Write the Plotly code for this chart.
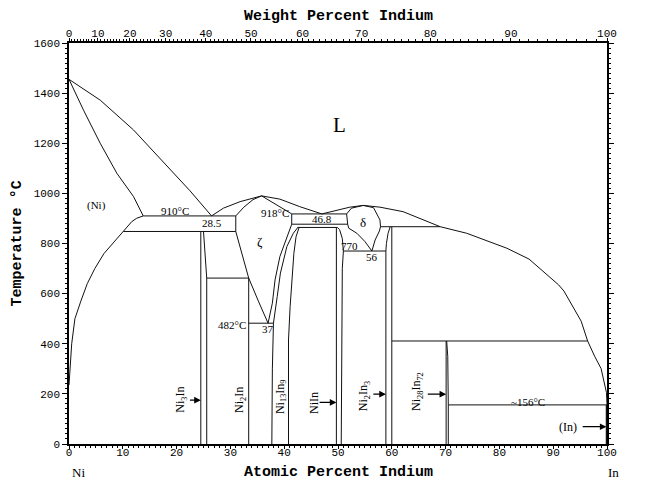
import numpy as np
import plotly.graph_objects as go

# ---------------- data (atomic % In, temperature °C) ----------------
M_NI = 58.6934
M_IN = 114.818

liq_ni_x = [0, 5.8, 12.0, 18.2, 22.5, 26.5]
liq_ni_t = [1455, 1372, 1253, 1107, 1010, 910]

sol_ni_x = [0, 2.7, 5.8, 8.9, 12.0, 13.8]
sol_ni_t = [1455, 1332, 1200, 1080, 987, 910]

solv_ni_x = [13.8, 12.6, 11.7, 10.1, 8.2, 6.5, 4.8, 3.4, 2.2, 1.1, 0.5, 0.2, 0.0]
solv_ni_t = [910, 901, 888, 848, 805, 760, 700, 640, 570, 500, 400, 300, 235]

liq_z1_x = [26.5, 28.7, 31.8, 35.8]
liq_z1_t = [910, 941, 967, 990]

liq_z2_x = [35.8, 39.2, 42.9, 47.0]
liq_z2_t = [990, 977, 947, 918]

liq_in_x = [47.0, 49.8, 52.2, 54.7, 57.8, 62.1, 65.2, 69.0, 73.9, 78.2, 81.4, 85.5, 88.2,
            91.0, 92.0, 93.7, 95.2, 96.4, 97.7, 98.9, 99.6, 99.9, 100.0]
liq_in_t = [918, 934, 945, 952, 945, 927, 900, 867, 841, 807, 781, 738, 686,
            635, 610, 548, 490, 411, 350, 301, 240, 205, 157]

zeta_sol_l_x = [31.0, 32.5, 34.2, 35.8]
zeta_sol_l_t = [910, 945, 975, 990]
zeta_sol_r_x = [35.8, 38.5, 41.4]
zeta_sol_r_t = [990, 955, 918]
zeta_left_x = [31.0, 32.2, 33.4, 35.2, 37.0]
zeta_left_t = [848, 755, 662, 570, 482]
zeta_right_x = [41.4, 40.5, 39.2, 38.3, 37.8, 37.0]
zeta_right_t = [877, 827, 748, 655, 562, 482]

ni3in_l_x = [24.5, 24.5]
ni3in_l_t = [848, 0]
ni3in_r_x = [25.0, 25.3, 25.6, 25.6]
ni3in_r_t = [848, 748, 662, 0]
ni2in_x = [33.4, 33.4]
ni2in_t = [662, 0]
ni13_l_x = [42.6, 41.7, 40.5, 39.3, 38.7, 38.0, 37.8, 37.7]
ni13_l_t = [866, 841, 788, 682, 588, 482, 300, 0]
ni13_r_x = [42.8, 42.2, 41.8, 41.4, 41.1, 40.8, 40.8]
ni13_r_t = [866, 827, 761, 655, 548, 415, 0]
niin_l_x = [49.7, 49.7]
niin_l_t = [864, 0]
niin_r_x = [49.9, 50.3, 50.8, 51.0, 50.8, 50.6]
niin_r_t = [864, 855, 820, 770, 700, 0]
delta_up_x = [51.6, 52.5, 54.7, 56.6, 57.8, 57.9, 57.7, 56.9, 56.3]
delta_up_t = [918, 941, 952, 943, 894, 867, 850, 814, 770]
delta_lo_x = [51.8, 52.0, 53.5, 55.0, 56.3]
delta_lo_t = [877, 861, 841, 808, 770]
ni2in3_l_x = [59.7, 59.3, 59.0, 58.9, 58.9]
ni2in3_l_t = [867, 840, 800, 770, 0]
ni2in3_r_x = [60.0, 60.0]
ni2in3_r_t = [867, 0]
ni28_l_x = [70.1, 70.1]
ni28_l_t = [411, 0]
ni28_r_x = [70.2, 70.4, 70.5, 70.5]
ni28_r_t = [411, 350, 156, 0]

# invariant (horizontal) lines: [x_start, x_end], temperature
iso_910_x, iso_910_t = [13.8, 31.0], 910
iso_848_x, iso_848_t = [10.1, 31.0], 848
iso_662_x, iso_662_t = [25.6, 33.4], 662
iso_482_x, iso_482_t = [33.4, 38.0], 482
iso_918_x, iso_918_t = [41.4, 51.6], 918
iso_877_x, iso_877_t = [41.4, 51.8], 877
iso_864_x, iso_864_t = [42.6, 49.9], 864
iso_770_x, iso_770_t = [51.0, 58.9], 770
iso_867_x, iso_867_t = [57.9, 69.0], 867
iso_411_x, iso_411_t = [60.0, 96.4], 411
iso_156_x, iso_156_t = [70.5, 100.0], 156
edge_31_x, edge_31_t = [31.0, 31.0], [848, 910]
edge_414_x, edge_414_t = [41.4, 41.4], [877, 918]
edge_516_x, edge_516_t = [51.6, 51.8], [918, 877]
in_bar_x, in_bar_t = [100, 100], [0, 157]

# text labels
lab_text = ["(Ni)", "910°C", "28.5", "ζ", "46.8", "δ", "770", "56", "37", "~156°C"]
lab_x = [5.1, 19.7, 26.5, 35.5, 47.0, 54.7, 52.2, 56.3, 36.9, 85.3]
lab_t = [950, 931, 881, 808, 896, 885, 792, 745, 458, 169]

phase_text = ["Ni<sub>3</sub>In", "Ni<sub>2</sub>In", "Ni<sub>13</sub>In<sub>9</sub>", "NiIn",
              "Ni<sub>2</sub>In<sub>3</sub>", "Ni<sub>28</sub>In<sub>72</sub>"]
phase_x = [20.8, 31.8, 39.3, 45.4, 54.9, 64.8]
phase_t = [176, 176, 189, 165, 192, 210]

arrow_x0 = [22.2, 46.3, 56.3, 66.4, 95.2]
arrow_x1 = [24.5, 49.7, 58.9, 70.1, 99.9]
arrow_t = [175, 166, 199, 199, 69]

x_ticks = list(range(0, 101, 10))
t_ticks = list(range(0, 1601, 200))
wt_ticks = list(range(0, 101, 10))
wt_minor = list(range(0, 101, 1))


def wt_to_at(w):
    w = np.asarray(w, dtype=float)
    a = w / M_IN
    b = (100.0 - w) / M_NI
    return 100.0 * a / (a + b)


fig = go.Figure()
LC = "#111"


def add(xs, ts, w=1.0):
    if np.isscalar(ts):
        ts = [ts] * len(xs)
    fig.add_trace(go.Scatter(x=xs, y=ts, mode="lines", line=dict(color=LC, width=w),
                             hoverinfo="skip", showlegend=False, cliponaxis=False))


curves = [
    (liq_ni_x, liq_ni_t), (sol_ni_x, sol_ni_t), (solv_ni_x, solv_ni_t),
    (liq_z1_x, liq_z1_t), (liq_z2_x, liq_z2_t), (liq_in_x, liq_in_t),
    (zeta_sol_l_x, zeta_sol_l_t), (zeta_sol_r_x, zeta_sol_r_t),
    (zeta_left_x, zeta_left_t), (zeta_right_x, zeta_right_t),
    (ni3in_l_x, ni3in_l_t), (ni3in_r_x, ni3in_r_t), (ni2in_x, ni2in_t),
    (ni13_l_x, ni13_l_t), (ni13_r_x, ni13_r_t), (niin_l_x, niin_l_t), (niin_r_x, niin_r_t),
    (delta_up_x, delta_up_t), (delta_lo_x, delta_lo_t),
    (ni2in3_l_x, ni2in3_l_t), (ni2in3_r_x, ni2in3_r_t),
    (ni28_l_x, ni28_l_t), (ni28_r_x, ni28_r_t),
    (iso_910_x, iso_910_t), (iso_848_x, iso_848_t), (iso_662_x, iso_662_t),
    (iso_482_x, iso_482_t), (iso_918_x, iso_918_t), (iso_877_x, iso_877_t),
    (iso_864_x, iso_864_t), (iso_770_x, iso_770_t), (iso_867_x, iso_867_t),
    (iso_411_x, iso_411_t), (iso_156_x, iso_156_t),
    (edge_31_x, edge_31_t), (edge_414_x, edge_414_t), (edge_516_x, edge_516_t),
]
for xs, ts in curves:
    add(xs, ts)
add(in_bar_x, in_bar_t, 2.5)

# dummy trace for top axis
fig.add_trace(go.Scatter(x=[0, 100], y=[0, 0], xaxis="x2", mode="lines",
                         line=dict(width=0), opacity=0, hoverinfo="skip", showlegend=False))

LF = dict(family="Liberation Serif", size=11, color="black")
ann = []
for s, x, t in zip(lab_text, lab_x, lab_t):
    f = dict(LF)
    if s in ("ζ", "δ"):
        f["size"] = 13
    ann.append(dict(x=x, y=t, text=s, showarrow=False, font=f))
ann.append(dict(x=41.2, y=921, text="918°C", showarrow=False, font=LF, xanchor="right"))
ann.append(dict(x=33.2, y=476, text="482°C", showarrow=False, font=LF, xanchor="right"))
ann.append(dict(x=50.2, y=1273, text="L", showarrow=False,
                font=dict(family="Liberation Serif", size=21, color="black")))
ann.append(dict(x=-0.6, y=1448, text="1455°C", showarrow=False, font=LF, xanchor="right"))
ann.append(dict(x=100.3, y=156, text="156.634°C", showarrow=False, font=LF, xanchor="left"))
ann.append(dict(x=92.7, y=69, text="(In)", showarrow=False,
                font=dict(family="Liberation Serif", size=12, color="black")))
for s, x, t in zip(phase_text, phase_x, phase_t):
    ann.append(dict(x=x, y=t, text=s, showarrow=False, textangle=-90,
                    font=dict(family="Liberation Serif", size=12, color="black")))
for x0, x1, t in zip(arrow_x0, arrow_x1, arrow_t):
    ann.append(dict(x=x1, y=t, ax=x0, ay=t, axref="x", ayref="y", text="",
                    showarrow=True, arrowhead=2, arrowsize=1.1, arrowwidth=1.2,
                    arrowcolor="black"))

TF = dict(family="Liberation Mono", size=15, color="black")
P = dict(xref="paper", yref="paper", showarrow=False, xanchor="center", yanchor="middle")
ann.append(dict(P, x=0.50, y=1.065, text="<b>Weight Percent Indium</b>", font=TF))
ann.append(dict(P, x=0.50, y=-0.072, text="<b>Atomic Percent Indium</b>", font=TF))
ann.append(dict(P, x=-0.095, y=0.50, text="<b>Temperature °C</b>", font=TF, textangle=-90))
ann.append(dict(P, x=0.018, y=-0.072, text="Ni",
                font=dict(family="Liberation Serif", size=13, color="black")))
ann.append(dict(P, x=1.013, y=-0.072, text="In",
                font=dict(family="Liberation Serif", size=13, color="black")))

TICKF = dict(family="Liberation Mono", size=11, color="black")
# page body has an 8px margin, so the figure is sized to fit the 662x484 window
fig.update_layout(
    width=654, height=476,
    margin=dict(l=61, r=55, t=35, b=40),
    paper_bgcolor="white", plot_bgcolor="white",
    showlegend=False,
    annotations=ann,
    xaxis=dict(range=[0, 100], tickmode="array", tickvals=x_ticks,
               ticks="outside", ticklen=3, tickcolor="black", tickwidth=1,
               showline=True, linecolor="black", linewidth=1.5, mirror=False,
               showgrid=False, zeroline=False, tickfont=TICKF, ticklabelstandoff=-6,
               automargin=False,
               minor=dict(dtick=1, ticks="outside", ticklen=2, tickcolor="black")),
    xaxis2=dict(range=[0, 100], overlaying="x", side="top", anchor="y",
                tickmode="array", tickvals=list(wt_to_at(wt_ticks)),
                ticktext=[str(w) for w in wt_ticks],
                ticks="outside", ticklen=3, tickcolor="black",
                showline=True, linecolor="black", linewidth=1.5,
                showgrid=False, zeroline=False, tickfont=TICKF, ticklabelstandoff=-3,
                automargin=False,
                minor=dict(tickmode="array", tickvals=list(wt_to_at(wt_minor)),
                           ticks="outside", ticklen=2, tickcolor="black")),
    yaxis=dict(range=[0, 1600], tickmode="array", tickvals=t_ticks,
               ticks="outside", ticklen=5, tickcolor="black",
               showline=True, linecolor="black", linewidth=1.5, mirror="ticks",
               showgrid=False, zeroline=False, tickfont=TICKF, automargin=False,
               minor=dict(dtick=20, ticks="outside", ticklen=2, tickcolor="black")),
)

fig.write_html("out.html")
